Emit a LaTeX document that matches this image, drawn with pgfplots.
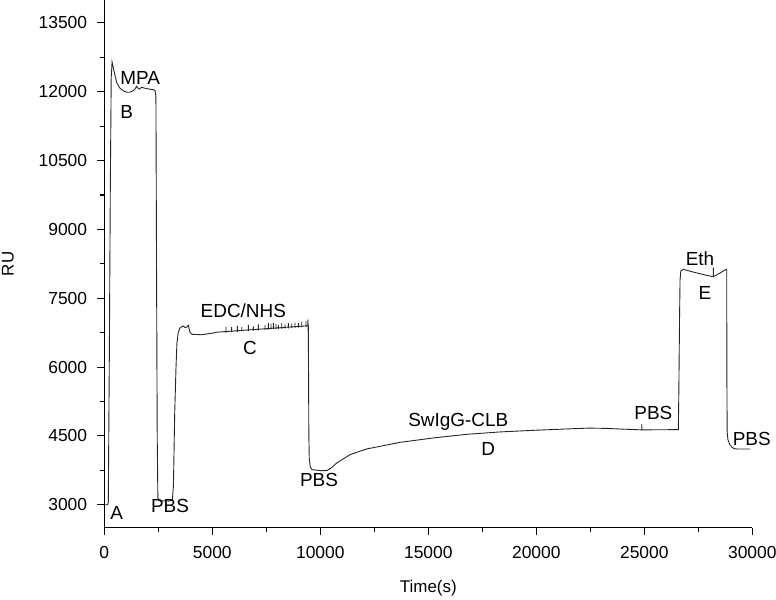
\documentclass[border=0pt]{standalone}
\usepackage{fontspec}
\setmainfont{Liberation Sans}
\usepackage{pgfplots}
\pgfplotsset{compat=1.18}

\pgfplotstableread{
t ru
0 3000
150 3000
185 3050
230 6000
280 10000
320 12300
360 12650
450 12450
574 12200
720 12080
880 12020
1050 11990
1190 11990
1330 12020
1421 12060
1500 12120
1570 12070
1640 12060
1732 12100
1850 12080
1963 12070
2120 12055
2270 12045
2347 12030
2390 11900
2420 8000
2450 4500
2480 3150
2530 3090
3000 3080
3150 3100
3200 3400
3260 5000
3320 6000
3360 6500
3420 6750
3500 6850
3584 6880
3658 6895
3740 6860
3810 6870
3890 6910
3968 6760
4050 6715
4500 6705
5000 6740
5200 6760
5635 6775
5635 6880
5635 6745
5635 6775
5898 6783
5898 6870
5898 6760
5898 6783
6158 6792
6158 6900
6158 6765
6158 6792
6362 6799
6362 6870
6362 6780
6362 6799
6667 6809
6667 6920
6667 6785
6667 6809
6899 6817
6899 6890
6899 6795
6899 6817
7130 6824
7130 6930
7130 6800
7130 6824
7440 6835
7440 6920
7440 6810
7440 6835
7593 6840
7593 6960
7593 6815
7593 6840
7719 6844
7719 6950
7719 6820
7719 6844
7825 6848
7825 6970
7825 6825
7825 6848
7950 6852
7950 6940
7950 6825
7950 6852
8056 6855
8056 6920
8056 6830
8056 6855
8213 6860
8213 6960
8213 6835
8213 6860
8366 6866
8366 6930
8366 6840
8366 6866
8519 6871
8519 6960
8519 6845
8519 6871
8676 6876
8676 6950
8676 6850
8676 6876
8829 6881
8829 6970
8829 6855
8829 6881
8982 6886
8982 6960
8982 6860
8982 6886
9139 6891
9139 6990
9139 6865
9139 6891
9339 6898
9339 7000
9339 6870
9339 6898
9420 6905
9430 7040
9438 6790
9445 6900
9455 6000
9470 4500
9490 4000
9540 3820
9620 3765
10000 3745
10300 3745
10500 3800
10760 3910
11376 4092
12149 4216
13691 4360
15233 4456
16779 4535
18321 4587
19863 4622
21409 4652
22400 4670
23200 4665
24000 4648
24880 4632
24880 4760
24890 4632
25500 4634
26576 4637
26600 5500
26630 7000
26655 7900
26690 8090
26808 8130
27270 8071
27890 7999
28197 7970
28197 8166
28205 7972
28505 8050
28785 8130
28816 8130
28822 6000
28835 4600
28870 4420
28950 4320
29048 4260
29150 4225
29280 4216
29896 4216
}\sensorgram

\begin{document}
\begin{tikzpicture}
\useasboundingbox (-104.3bp,-72.3bp) rectangle (671.7bp,527.7bp);
\begin{axis}[
  scale only axis,
  width=648bp, height=527.7bp,
  xmin=0, xmax=30000,
  ymin=2500, ymax=14000,
  axis x line*=bottom, axis y line*=left,
  axis line style={-, line width=1.1bp, black},
  xtick={0,5000,...,30000},
  ytick={3000,4500,...,13500},
  minor tick num=1,
  tick align=outside,
  major tick length=7bp, minor tick length=4bp,
  tick style={black, line width=1.1bp},
  scaled ticks=false,
  /pgf/number format/1000 sep={},
  /pgf/number format/assume math mode=true,
  tick label style={font=\fontsize{17.5}{20}\selectfont},
  yticklabel style={anchor=east, inner sep=0pt, xshift=-10bp},
  xticklabel style={anchor=north, inner sep=0pt, yshift=-11.5bp},
  xlabel={Time(s)}, ylabel={RU},
  label style={font=\fontsize{17}{20}\selectfont},
  xlabel style={at={([yshift=-60bp]axis description cs:0.5,0)}, anchor=center},
  ylabel style={at={([xshift=-96.3bp]axis description cs:0,0.5)}, anchor=center},
  clip=false,
]
\addplot[black!85, line width=0.9bp] table[x=t, y=ru] {\sensorgram};

\begin{scope}[every node/.style={font=\fontsize{19}{21}\selectfont, inner sep=0pt}]
\node at (axis cs:574,2819) {A};
\node at (axis cs:1658,12300) {MPA};
\node at (axis cs:1037,11565) {B};
\node at (axis cs:3042,2963) {PBS};
\node at (axis cs:6436,7220) {EDC/NHS};
\node at (axis cs:6746,6420) {C};
\node at (axis cs:9941,3546) {PBS};
\node at (axis cs:16390,4805) {SwIgG-CLB};
\node at (axis cs:17779,4216) {D};
\node at (axis cs:25419,5002) {PBS};
\node at (axis cs:27580,8364) {Eth};
\node at (axis cs:27812,7622) {E};
\node at (axis cs:29975,4434) {PBS};
\end{scope}
\end{axis}
\end{tikzpicture}
\end{document}
